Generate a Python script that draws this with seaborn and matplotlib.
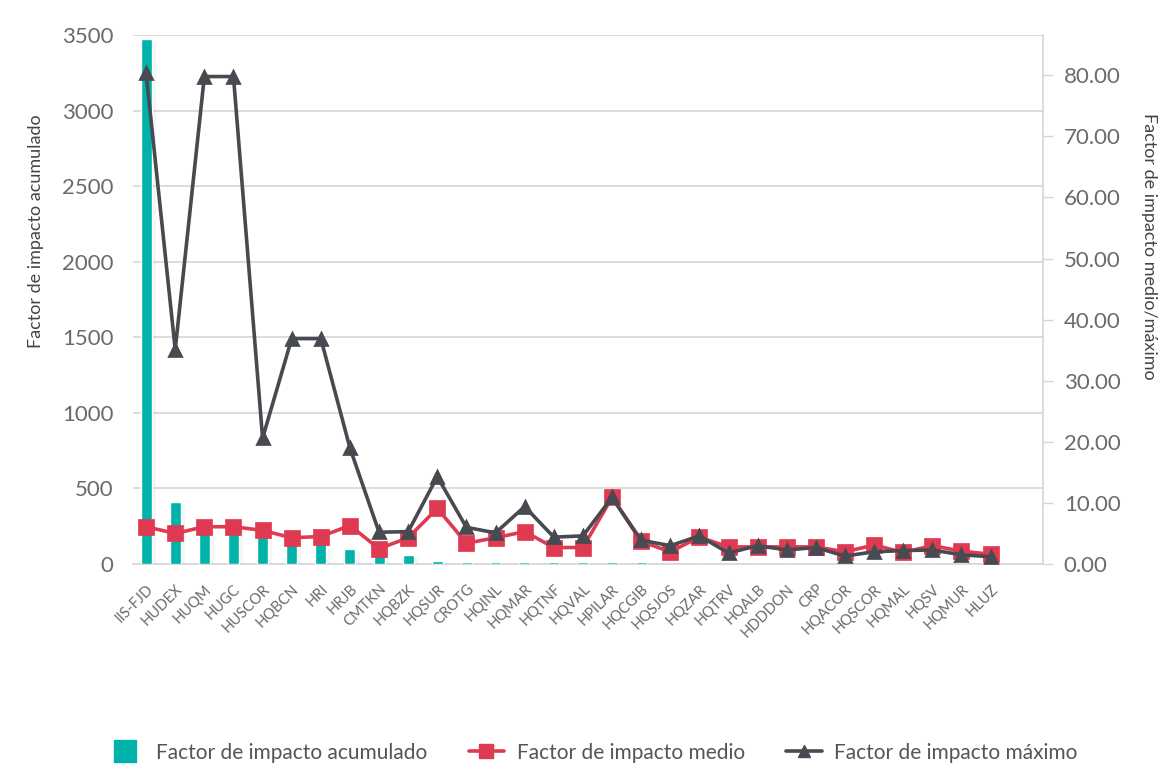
import matplotlib
matplotlib.use("Agg")
import matplotlib.pyplot as plt
import matplotlib.patheffects as pe
from matplotlib.lines import Line2D
import numpy as np
import pandas as pd
import seaborn as sns

categories = ["IIS-FJD", "HUDEX", "HUQM", "HUGC", "HUSCOR", "HQBCN", "HRI", "HRJB",
              "CMTKN", "HQBZK", "HQSUR", "CROTG", "HQINL", "HQMAR", "HQTNF", "HQVAL",
              "HPILAR", "HQCGIB", "HQSJOS", "HQZAR", "HQTRV", "HQALB", "HDDDON", "CRP",
              "HQACOR", "HQSCOR", "HQMAL", "HQSV", "HQMUR", "HLUZ"]
acumulado = [3475, 410, 245, 240, 210, 165, 160, 100, 70, 60, 20, 10, 10, 10, 10, 10,
             10, 10, 3, 3, 3, 3, 3, 3, 2, 2, 2, 2, 2, 2]
medio = [6.1, 5.0, 6.1, 6.1, 5.5, 4.3, 4.5, 6.3, 2.5, 4.3, 9.1, 3.4, 4.3, 5.3, 2.7, 2.7,
         10.9, 3.7, 2.0, 4.4, 2.8, 2.8, 2.8, 2.8, 2.0, 3.1, 1.9, 3.0, 2.1, 1.6]
maximo = [80.3, 35.1, 79.8, 79.8, 20.6, 36.9, 36.9, 19.0, 5.2, 5.3, 14.3, 6.0, 5.1, 9.4,
          4.4, 4.6, 10.9, 3.9, 3.0, 4.6, 1.8, 3.0, 2.3, 2.7, 1.3, 2.0, 2.2, 2.3, 1.5, 1.2]
left_ticks = [0, 500, 1000, 1500, 2000, 2500, 3000, 3500]
right_ticks = [0, 10, 20, 30, 40, 50, 60, 70, 80]

TEAL = "#00B2A9"
RED = "#E03A52"
DARK = "#474A50"
TICK = "#6A6A6A"
LABEL = "#444444"

sns.set_theme(style="white")
plt.rcParams["font.family"] = ["Lato", "DejaVu Sans"]

df = pd.DataFrame({"cat": categories, "acum": acumulado, "medio": medio, "max": maximo})

fig = plt.figure(figsize=(11.76, 7.75), dpi=100)
ax = fig.add_axes([133 / 1176, 1 - 564 / 775, (1043 - 133) / 1176, (564 - 35) / 775])

sns.barplot(data=df, x="cat", y="acum", ax=ax, color=TEAL, width=0.38,
            saturation=1, zorder=3)
for p in ax.patches:
    p.set_path_effects([pe.SimplePatchShadow(offset=(3, -2), shadow_rgbFace="#9aa0a6",
                                             alpha=0.10), pe.Normal()])

ax.set_ylim(0, 3500)
ax.set_yticks(left_ticks)
ax.set_yticklabels([str(t) for t in left_ticks], fontsize=16, color=TICK)
ax.yaxis.grid(True, color="#D6D6D6", linewidth=1.2, zorder=0)
ax.set_axisbelow(True)
ax.set_xlim(-0.45, 30.8)
ax.set_xlabel("")
ax.set_ylabel("Factor de impacto acumulado", fontsize=13, color=LABEL)
ax.yaxis.set_label_coords(-0.098, 0.63)
ax.tick_params(axis="y", length=0, pad=14)
ax.tick_params(axis="x", length=0, pad=13)
plt.setp(ax.get_xticklabels(), rotation=45, ha="right", rotation_mode="anchor",
         fontsize=10.5, color=TICK)
for s in ["left", "top", "right"]:
    ax.spines[s].set_visible(False)
ax.spines["bottom"].set_color("#D6D6D6")
ax.spines["bottom"].set_linewidth(1.2)

ax2 = ax.twinx()
sns.pointplot(data=df, x="cat", y="medio", ax=ax2, color=RED, markers="s",
              linestyles="-", markersize=10, linewidth=2.6)
sns.pointplot(data=df, x="cat", y="max", ax=ax2, color=DARK, markers="^",
              linestyles="-", markersize=9, linewidth=2.6)
ax2.set_ylim(0, 86.6)
ax2.set_xlim(-0.45, 30.8)
ax2.set_yticks(right_ticks)
ax2.set_yticklabels([f"{t:.2f}" for t in right_ticks], fontsize=16, color=TICK)
ax2.tick_params(axis="y", length=7, width=1, color="#D6D6D6", pad=8, right=True)
ax2.set_ylabel("Factor de impacto medio/máximo", fontsize=13, color=LABEL,
               rotation=270, labelpad=22)
ax2.yaxis.set_label_coords(1.125, 0.6)
ax2.set_xlabel("")
for s in ["left", "top", "bottom"]:
    ax2.spines[s].set_visible(False)
ax2.spines["right"].set_color("#D6D6D6")
ax2.spines["right"].set_linewidth(1.2)
ax2.grid(False)

handles = [
    Line2D([0], [0], color=TEAL, marker="s", markersize=16, linestyle="none"),
    Line2D([0], [0], color=RED, marker="s", markersize=10, linewidth=2.6),
    Line2D([0], [0], color=DARK, marker="^", markersize=9, linewidth=2.6),
]
labels = ["Factor de impacto acumulado", "Factor de impacto medio",
          "Factor de impacto máximo"]
leg = fig.legend(handles, labels, loc="center", bbox_to_anchor=(0.504, 0.029),
                 ncol=3, frameon=False, fontsize=15, handlelength=1.7,
                 columnspacing=2.0, handletextpad=0.6)
for t in leg.get_texts():
    t.set_color("#555555")

fig.savefig("out.png", dpi=100)
